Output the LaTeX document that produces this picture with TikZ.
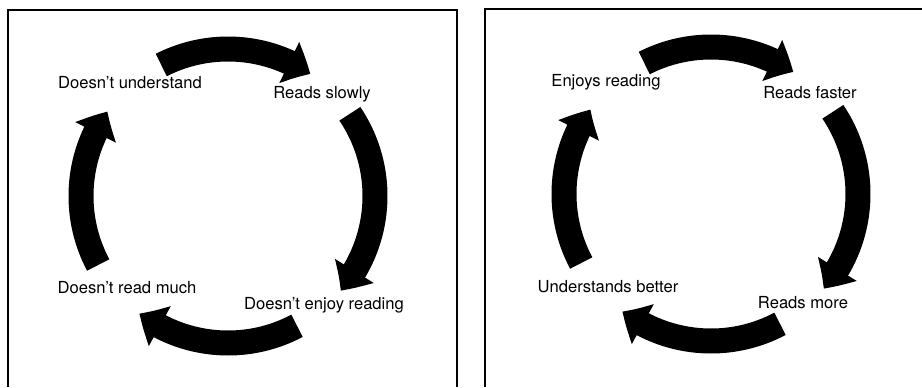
\documentclass[tikz,border=0pt]{standalone}
\usepackage{fontspec}
\setmainfont{TeX Gyre Heros}
\usetikzlibrary{arrows.meta,bending}

\begin{document}
\begin{tikzpicture}[x=0.5pt, y=0.5pt,
                    cyclearrow/.style={line width=12.5pt, -{Triangle[width=22pt, length=12pt, bend]}},
                    phase/.style={font=\fontsize{8.3}{10}\selectfont, inner sep=1pt, text=black}]
                        \useasboundingbox (0,0) rectangle (922,387);
                        % frames
                        \draw [line width=1pt] (8,0) -- (8,377.5) -- (457,377.5) -- (457,0);
                        \draw [line width=1pt] (485,0) -- (485,378.5) -- (922,378.5);
                        % centres of the two cycles
                        \coordinate (c1) at (228,191);
                        \coordinate (c2) at (711,193);
                        \node[phase] (u1) at (130,304) {Doesn't understand};
                        \node[phase] (r1) at (322,293) {Reads slowly};
                        \node[phase] (e1) at (324,82) {Doesn't enjoy reading};
                        \node[phase] (m1) at (127,99) {Doesn't read much};
                        \node[phase] (u2) at (606,305) {Enjoys reading};
                        \node[phase] (r2) at (810,294) {Reads faster};
                        \node[phase] (e2) at (803,84) {Reads more};
                        \node[phase] (m2) at (608,100) {Understands better};
                        \foreach \c in {c1,c2}
                            \foreach \a/\b in {117/56, 34/-40, -62/-127, 208/145}
                                \draw [cyclearrow] ([shift={(\a:147)}]\c) arc[start angle=\a, end angle=\b, radius=147];
                        \end{tikzpicture}
\end{document}
